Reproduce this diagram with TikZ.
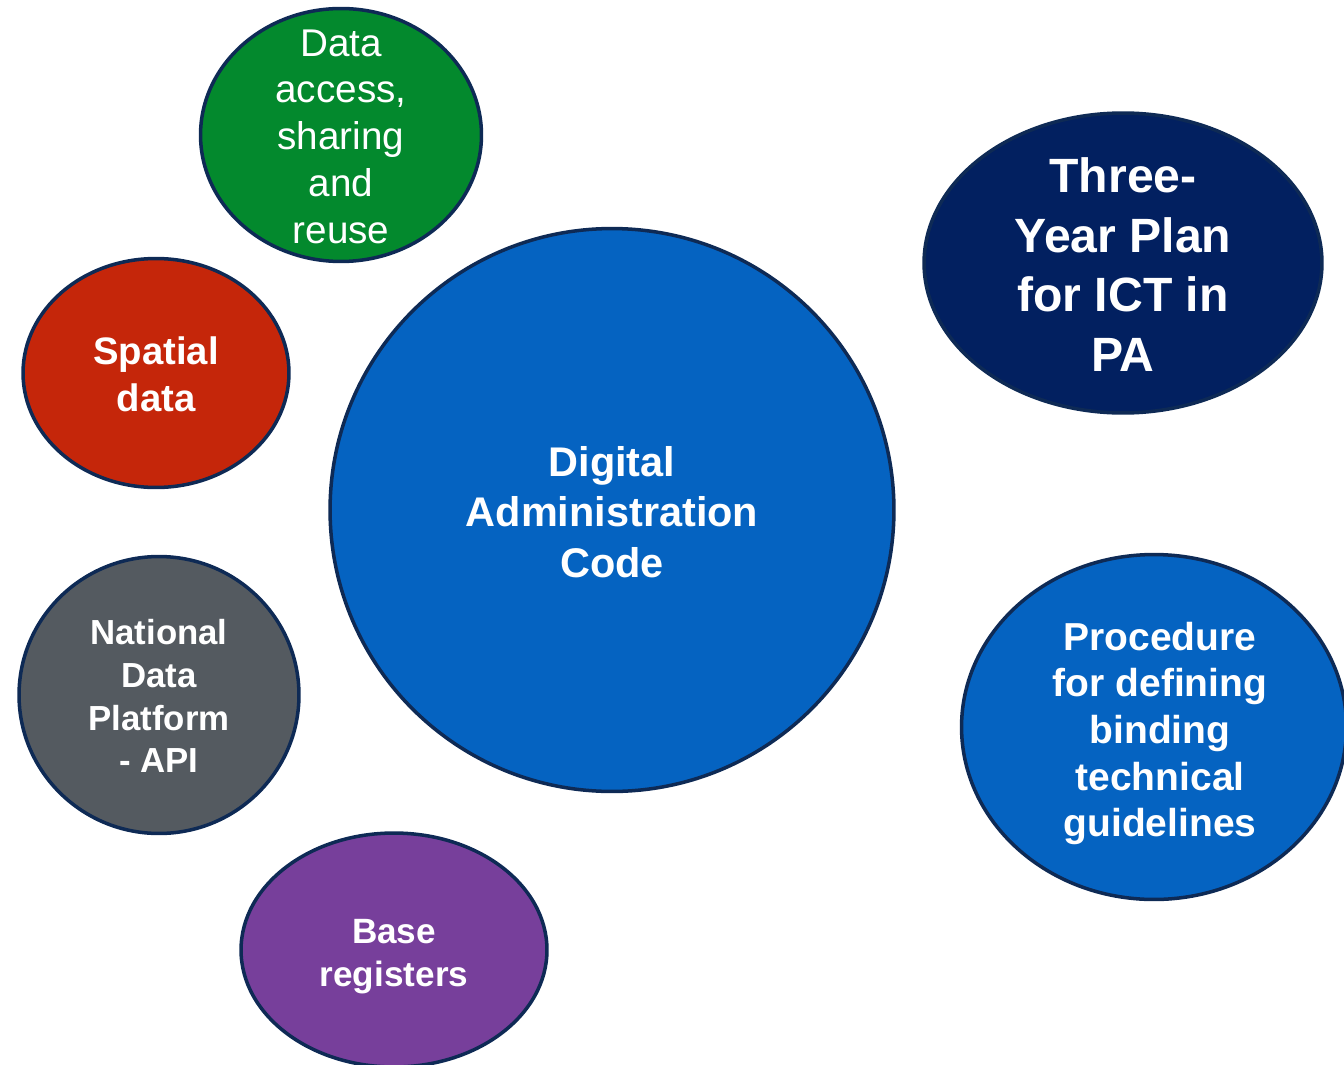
\documentclass[tikz,border=0pt]{standalone}
\usepackage{fontspec}
\setmainfont{Liberation Sans}
\usepackage{tikz}
\usetikzlibrary{shapes.geometric,positioning}

\definecolor{rimblue}{HTML}{0E2A55}
\definecolor{accessgreen}{HTML}{03892D}
\definecolor{spatialred}{HTML}{C5260A}
\definecolor{platformgray}{HTML}{545A60}
\definecolor{registerpurple}{HTML}{773F9B}
\definecolor{codeblue}{HTML}{0563C1}
\definecolor{plannavy}{HTML}{022060}

\tikzset{
  bubble/.style={ellipse,draw=rimblue,line width=2pt,inner sep=0pt},
  bubbletext/.style={text=white,align=center,inner sep=0pt}
}

\begin{document}
\begin{tikzpicture}[x=0.02cm,y=-0.02cm]

    \useasboundingbox (0,0) rectangle (1344,1064);
    \clip (0,0) rectangle (1344,1064);

    % the bubbles
    \node (access)   [bubble,fill=accessgreen,minimum width=5.62cm,minimum height=5.06cm] at (341,135) {};
    \node (spatial)  [bubble,fill=spatialred,minimum width=5.32cm,minimum height=4.58cm] at (156,373) {};
    \node (platform) [bubble,fill=platformgray,minimum width=5.6cm,minimum height=5.54cm] at (159,695) {};
    \node (base)     [bubble,fill=registerpurple,minimum width=6.12cm,minimum height=4.68cm] at (394,950) {};
    \node (code)     [bubble,fill=codeblue,minimum width=11.28cm,minimum height=11.26cm] at (612,510) {};
    \node (plan)     [bubble,fill=plannavy,minimum width=7.96cm,minimum height=6cm] at (1123,263) {};
    \node (guide)    [bubble,fill=codeblue,minimum width=7.7cm,minimum height=6.9cm] at (1154,727) {};

    % the texts
    \node (access-text) [bubbletext,font=\fontsize{22}{26.6}\selectfont] at ([yshift=-0.03cm]access.center) {Data\\access,\\sharing\\and\\reuse};
    \node (spatial-text) [bubbletext,font=\fontsize{21.8}{26.6}\selectfont\bfseries] at ([yshift=-0.03cm]spatial.center) {Spatial\\data};
    \node (platform-text) [bubbletext,font=\fontsize{19.8}{24.4}\selectfont\bfseries] at ([yshift=-0.02cm]platform.center) {National\\Data\\Platform\\- API};
    \node (base-text) [bubbletext,font=\fontsize{20}{24.4}\selectfont\bfseries] at ([yshift=-0.13cm]base.center) {Base\\registers};
    \node (code-text) [bubbletext,font=\fontsize{23.6}{28.9}\selectfont\bfseries] at ([yshift=-0.04cm]code.center) {Digital\\Administration\\Code};
    \node (plan-text) [bubbletext,font=\fontsize{27.4}{34}\selectfont\bfseries] at ([yshift=-0.03cm]plan.center) {Three-\\Year Plan\\for ICT in\\PA};
    \node (guide-text) [bubbletext,font=\fontsize{22.2}{26.6}\selectfont\bfseries] at ([xshift=0.12cm,yshift=-0.13cm]guide.center) {Procedure\\for defining\\binding\\technical\\guidelines};

\end{tikzpicture}
\end{document}
